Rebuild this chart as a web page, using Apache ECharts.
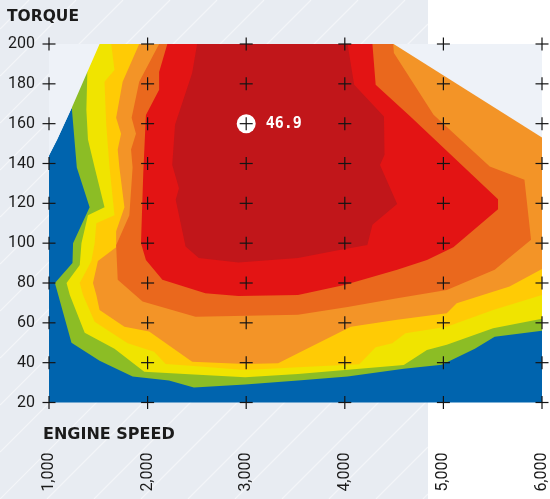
<!DOCTYPE html>
<html><head><meta charset="utf-8">
<script src="https://cdn.jsdelivr.net/npm/echarts@6/dist/echarts.min.js"></script>
<style>html,body{margin:0;padding:0;background:#fff}#c{width:550px;height:499px}</style>
</head><body><div id="c"></div>
<script>
// ---- data (engine speed [rpm], torque [Nm]) ----
const speedTicks = [1000, 2000, 3000, 4000, 5000, 6000];
const speedLabels = ['1,000', '2,000', '3,000', '4,000', '5,000', '6,000'];
const torqueTicks = [20, 40, 60, 80, 100, 120, 140, 160, 180, 200];

// outer limit of the map (full-load curve)
const envelope = [[1000,20],[1000,144],[1083,152],[1231,168],[1389,186],[1513,200],[4495,200],[6000,153],[6000,20]];

// contour zones, lowest to highest efficiency
const greenZone = [[1231,168],[1282,138],[1412,118],[1244,100],[1238,90],[1060,80],[1228,50],[1513,41],[1848,33],[2217,31],[2469,27.5],[2989,29],[3525,31],[4028,33],[4598,37],[4984,39],[5319,47],[5520,53],[6000,56],[6000,200],[1231,200]];
const yellowZone = [[1389,186],[1379,167],[1395,152],[1463,138],[1563,118],[1395,114],[1329,100],[1312,89],[1178,80],[1211,74],[1362,55],[1664,47],[1966,35.5],[2469,34],[2989,32.7],[3525,34.3],[4598,38.8],[4833,46.4],[5034,49],[5504,57.3],[6000,62],[6000,200],[1389,200]];
const goldZone = [[1631,200],[1664,187],[1563,181],[1580,160],[1614,138],[1664,114],[1480,110],[1463,100],[1430,91],[1312,80],[1345,74],[1463,60.6],[1798,49.7],[2066,45.5],[2184,39.3],[2469,38.3],[2989,36.3],[3525,37.7],[4146,39.2],[4313,47.7],[4481,49.7],[4615,54.8],[5034,58],[5504,66.5],[6000,74],[6000,200]];
const lightOrangeZone = [[1915,200],[1747,181],[1681,163],[1731,155],[1697,147],[1714,138],[1765,118],[1681,106],[1681,98],[1496,91],[1446,80],[1480,74],[1513,66.5],[1765,58],[2016,55.6],[2452,40.5],[2989,39.3],[3324,39.7],[3525,44.7],[4061,58],[4531,61.5],[5034,64.8],[5135,69.8],[5671,78.2],[6000,87],[6000,200]];
const orangeZone = [[2117,200],[1915,181],[1838,163],[1882,155],[1832,147],[1848,138],[1815,114],[1681,99],[1697,81.6],[1949,70.7],[2486,63.1],[3525,64],[4028,68],[4531,72.4],[5034,76.5],[5520,86.6],[5889,101.7],[5822,131.8],[5470,138.5],[4900,164.5],[4498,195.5],[4491,200]];
const redZone = [[2200,200],[2117,186],[2117,177],[1983,164.4],[1956,135],[1933,100],[1983,91.6],[2150,81.6],[2586,74.9],[2921,73.5],[3525,74],[3995,79],[4531,86.6],[4833,91.6],[5101,97.9],[5554,117],[5554,122],[4665,163.6],[4313,179.5],[4280,200]];
const darkRedZone = [[2502,200],[2452,185.4],[2278,159.4],[2250,139.3],[2318,127.6],[2285,121.8],[2385,98.3],[2519,92.5],[2921,90.3],[3525,92.6],[3945,96.6],[4229,99.1],[4280,109.2],[4531,119.7],[4357,139.3],[4403,144.4],[4397,163.6],[4095,179.5],[4028,200]];

const peakPoint = [3000, 160];
const peakValue = 46.9;

// ---- styling ----
const zoneColors = ['#0064ae', '#8cbd25', '#f0e400', '#ffcb05', '#f39427', '#ea681d', '#e31414', '#c1161a'];
const outsideColor = '#eef2f8';

const outsideLeft = envelope.slice(1, 6).concat([[1000, 200]]);
const outsideRight = envelope.slice(6, 8).concat([[6000, 200]]);
const polys = [envelope, greenZone, yellowZone, goldZone, lightOrangeZone, orangeZone, redZone, darkRedZone, outsideLeft, outsideRight];
const polyColors = zoneColors.concat([outsideColor, outsideColor]);

const crossData = [];
speedTicks.forEach(s => torqueTicks.forEach(t => crossData.push([s, t])));

// decorative background stripes
const stripes = [];
for (let k = -12; k < 12; k++) {
  const x0 = k * 47;
  const u0 = Math.max(0, -x0), u1 = Math.min(499, 428 - x0);
  if (u1 > u0) stripes.push({type: 'line', z: -9, silent: true,
    shape: {x1: x0 + u0, y1: 499 - u0, x2: x0 + u1, y2: 499 - u1},
    style: {stroke: 'rgba(255,255,255,0.5)', lineWidth: 1.2}});
}

const chart = echarts.init(document.getElementById('c'), null, {renderer: 'canvas'});
chart.setOption({
  backgroundColor: '#ffffff',
  animation: false,
  grid: {left: 49, right: 4, top: 44, bottom: 96.5},
  xAxis: {
    type: 'value', min: 1000, max: 6000, interval: 1000,
    axisLine: {show: false}, axisTick: {show: false}, splitLine: {show: false},
    axisLabel: {rotate: 90, margin: 50, fontSize: 16, fontFamily: 'Roboto', color: '#1b1b1b',
      showMinLabel: true, showMaxLabel: true,
      formatter: v => speedLabels[speedTicks.indexOf(v)] || ''}
  },
  yAxis: {
    type: 'value', min: 20, max: 200, interval: 20,
    axisLine: {show: false}, axisTick: {show: false}, splitLine: {show: false},
    axisLabel: {margin: 14, fontSize: 16, fontFamily: 'Roboto', color: '#1b1b1b'}
  },
  graphic: [
    {type: 'rect', z: -10, silent: true, shape: {x: 0, y: 0, width: 428, height: 499}, style: {fill: '#e8ecf2'}}
  ].concat(stripes).concat([
    {type: 'text', left: 7, top: 9, style: {text: 'TORQUE', font: 'bold 15.5px "DejaVu Sans"', fill: '#1b1b1b'}},
    {type: 'text', left: 43, top: 427, style: {text: 'ENGINE SPEED', font: 'bold 16px "DejaVu Sans"', fill: '#1b1b1b'}}
  ]),
  series: [
    {
      type: 'custom', coordinateSystem: 'cartesian2d', silent: true, z: 1,
      encode: {x: 0, y: 1},
      data: polys.map((p, i) => [3000, 100, i]),
      renderItem: (params, api) => {
        const i = api.value(2);
        return {type: 'polygon', shape: {points: polys[i].map(p => api.coord(p))},
          style: {fill: polyColors[i]}};
      }
    },
    {
      type: 'scatter', z: 3, silent: true,
      data: [[peakPoint[0], peakPoint[1], peakValue]],
      symbol: 'circle', symbolSize: 19,
      itemStyle: {color: '#ffffff', opacity: 1},
      label: {show: true, position: 'right', distance: 10, formatter: p => p.value[2].toFixed(1),
        color: '#ffffff', fontWeight: 'bold', fontSize: 15, fontFamily: 'DejaVu Sans Mono'}
    },
    {
      type: 'custom', coordinateSystem: 'cartesian2d', silent: true, z: 5,
      encode: {x: 0, y: 1},
      data: crossData,
      renderItem: (params, api) => {
        const c = api.coord([api.value(0), api.value(1)]);
        const h = 6.5;
        return {type: 'group', children: [
          {type: 'line', shape: {x1: c[0] - h, y1: c[1], x2: c[0] + h, y2: c[1]}, style: {stroke: '#141414', lineWidth: 1.2}},
          {type: 'line', shape: {x1: c[0], y1: c[1] - h, x2: c[0], y2: c[1] + h}, style: {stroke: '#141414', lineWidth: 1.2}}
        ]};
      }
    }
  ]
});
</script></body></html>
